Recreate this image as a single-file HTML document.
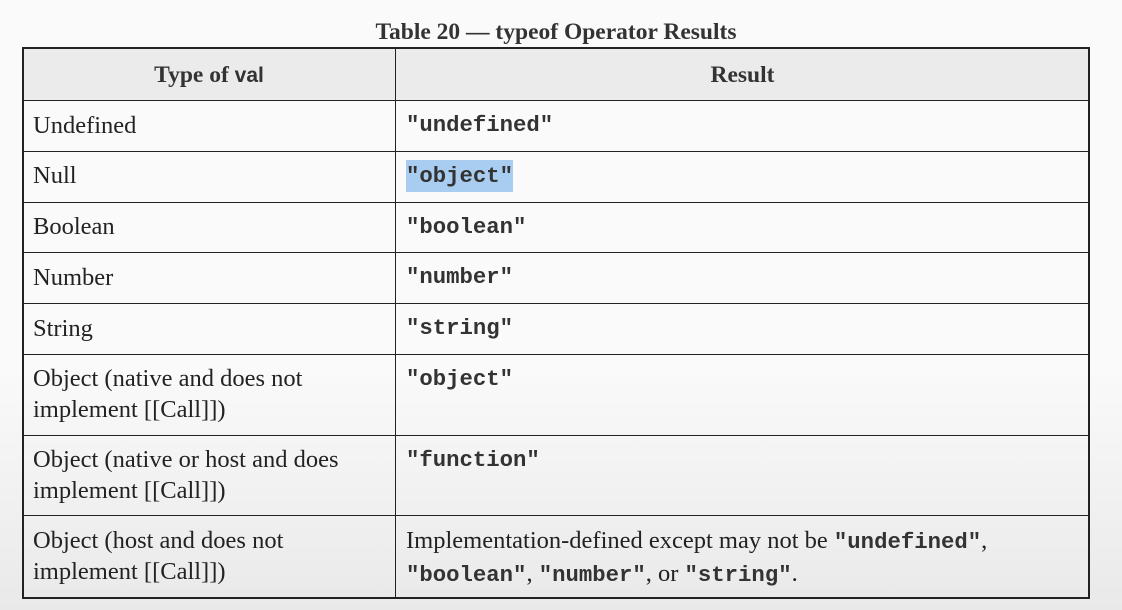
<!DOCTYPE html>
<html><head><style>
body{margin:0;width:1122px;height:610px;overflow:hidden;background:linear-gradient(#fafafa,#fafafa 60%,#e9e9e9);font-family:"Liberation Serif",serif;color:#222;position:relative}
.t{position:absolute;top:19px;left:0;width:1112px;text-align:center;font-weight:bold;font-size:23.5px;color:#333}
.h{position:absolute;left:23px;top:48px;width:1066px;height:52px;background:#ebebeb}
.l{position:absolute;background:#222}
.c{position:absolute;font-size:24.5px;line-height:31px;white-space:nowrap}
.m{font-family:"Liberation Mono",monospace;font-weight:bold;font-size:22.3px;color:#333}
.hd{position:absolute;top:62px;font-weight:bold;font-size:23.5px;color:#333;text-align:center}
</style></head><body>
<div class="t">Table 20 — typeof Operator Results</div>
<div class="h"></div>
<div class="hd" style="left:23px;width:372px">Type of <span style="font-family:'Liberation Sans',sans-serif;font-size:21px">val</span></div>
<div class="hd" style="left:396px;width:693px">Result</div>
<div class="l" style="left:22px;top:47px;width:1068px;height:2px"></div>
<div class="l" style="left:22px;top:597px;width:1068px;height:2px"></div>
<div class="l" style="left:22px;top:47px;width:2px;height:552px"></div>
<div class="l" style="left:1088px;top:47px;width:2px;height:552px"></div>
<div class="l" style="left:395px;top:47px;width:1px;height:552px"></div>
<div class="l" style="left:22px;top:100px;width:1068px;height:1px"></div>
<div class="l" style="left:22px;top:151px;width:1068px;height:1px"></div>
<div class="l" style="left:22px;top:202px;width:1068px;height:1px"></div>
<div class="l" style="left:22px;top:252px;width:1068px;height:1px"></div>
<div class="l" style="left:22px;top:303px;width:1068px;height:1px"></div>
<div class="l" style="left:22px;top:354px;width:1068px;height:1px"></div>
<div class="l" style="left:22px;top:435px;width:1068px;height:1px"></div>
<div class="l" style="left:22px;top:515px;width:1068px;height:1px"></div>

<div class="c" style="left:33px;top:110px">Undefined</div>
<div class="c m" style="left:406px;top:110px">"undefined"</div>
<div class="c" style="left:33px;top:160px">Null</div>
<div class="c m" style="left:406px;top:161px"><span style="background:#a9cdf0;padding:3px 0">"object"</span></div>
<div class="c" style="left:33px;top:211px">Boolean</div>
<div class="c m" style="left:406px;top:212px">"boolean"</div>
<div class="c" style="left:33px;top:262px">Number</div>
<div class="c m" style="left:406px;top:262px">"number"</div>
<div class="c" style="left:33px;top:313px">String</div>
<div class="c m" style="left:406px;top:313px">"string"</div>
<div class="c" style="left:33px;top:363px">Object (native and does not<br>implement [[Call]])</div>
<div class="c m" style="left:406px;top:364px">"object"</div>
<div class="c" style="left:33px;top:444px">Object (native or host and does<br>implement [[Call]])</div>
<div class="c m" style="left:406px;top:445px">"function"</div>
<div class="c" style="left:33px;top:525px">Object (host and does not<br>implement [[Call]])</div>
<div class="c" style="left:406px;top:525px">Implementation-defined except may not be <span class="m">"undefined"</span>,<br><span class="m">"boolean"</span>, <span class="m">"number"</span>, or <span class="m">"string"</span>.</div>
</body></html>
